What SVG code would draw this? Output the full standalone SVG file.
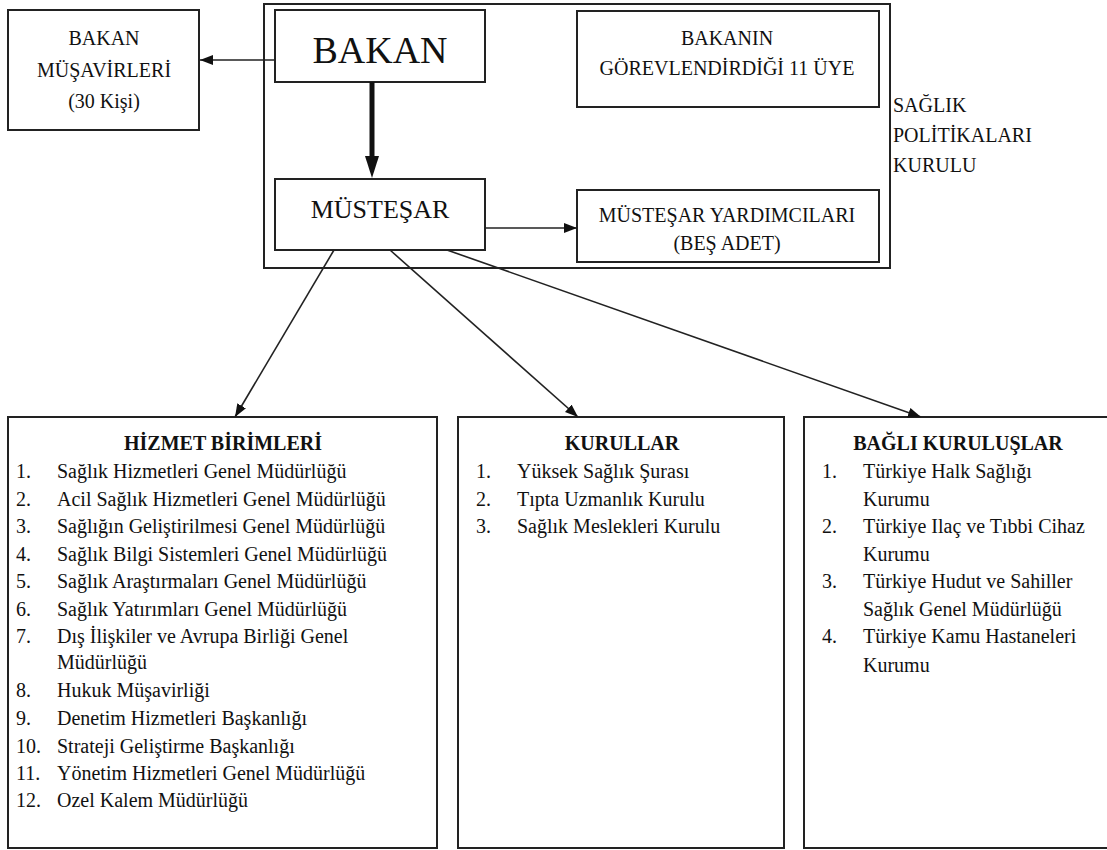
<svg xmlns="http://www.w3.org/2000/svg" width="1107" height="850" viewBox="0 0 1107 850">
<defs>
<style>
.box{fill:#fff;stroke:#222;stroke-width:2}
.t{font-family:"Liberation Serif","Times New Roman",serif;fill:#111}
.c{text-anchor:middle}
.b{font-weight:bold}
.conn{stroke:#222;stroke-width:1.6;fill:none}
</style>
<marker id="ah" markerUnits="userSpaceOnUse" markerWidth="13" markerHeight="10" refX="13" refY="5" orient="auto"><path d="M0,0 L13,5 L0,10 z" fill="#111"/></marker>
<marker id="ahb" markerUnits="userSpaceOnUse" markerWidth="22" markerHeight="14" refX="0" refY="7" orient="auto"><path d="M0,0 L22,7 L0,14 z" fill="#111"/></marker>
</defs>
<rect width="1107" height="850" fill="#fff"/>

<g id="kurul">
<rect class="box" x="264" y="4" width="626" height="264"/>
<text class="t" font-size="20" x="893" y="112">SAĞLIK</text>
<text class="t" font-size="20" x="893" y="142">POLİTİKALARI</text>
<text class="t" font-size="20" x="893" y="172">KURULU</text>
</g>

<g id="musavir">
<rect class="box" x="8" y="10" width="191" height="120"/>
<text class="t c" font-size="20" x="104" y="45">BAKAN</text>
<text class="t c" font-size="20" x="104" y="77">MÜŞAVİRLERİ</text>
<text class="t c" font-size="20" x="104" y="108">(30 Kişi)</text>
</g>

<g id="bakan">
<rect class="box" x="275" y="10" width="210" height="72"/>
<text class="t c" font-size="38" x="380" y="63">BAKAN</text>
</g>

<g id="uye">
<rect class="box" x="577" y="11" width="302" height="96"/>
<text class="t c" font-size="20" x="727" y="45">BAKANIN</text>
<text class="t c" font-size="20" x="727" y="75">GÖREVLENDİRDİĞİ 11 ÜYE</text>
</g>

<g id="mustesar">
<rect class="box" x="275" y="179" width="210" height="71"/>
<text class="t c" font-size="26" x="380" y="218">MÜSTEŞAR</text>
</g>

<g id="yardimci">
<rect class="box" x="577" y="190" width="302" height="72"/>
<text class="t c" font-size="20" x="727" y="222">MÜSTEŞAR YARDIMCILARI</text>
<text class="t c" font-size="20" x="727" y="250">(BEŞ ADET)</text>
</g>

<g id="hizmet">
<rect class="box" x="8" y="417" width="429" height="431"/>
<text class="t c b" font-size="20" x="223" y="450">HİZMET BİRİMLERİ</text>
<g class="t" font-size="20">
<text x="16" y="478">1.</text><text x="57" y="478">Sağlık Hizmetleri Genel Müdürlüğü</text>
<text x="16" y="506">2.</text><text x="57" y="506">Acil Sağlık Hizmetleri Genel Müdürlüğü</text>
<text x="16" y="533">3.</text><text x="57" y="533">Sağlığın Geliştirilmesi Genel Müdürlüğü</text>
<text x="16" y="561">4.</text><text x="57" y="561">Sağlık Bilgi Sistemleri Genel Müdürlüğü</text>
<text x="16" y="588">5.</text><text x="57" y="588">Sağlık Araştırmaları Genel Müdürlüğü</text>
<text x="16" y="616">6.</text><text x="57" y="616">Sağlık Yatırımları Genel Müdürlüğü</text>
<text x="16" y="643">7.</text><text x="57" y="643">Dış İlişkiler ve Avrupa Birliği Genel</text>
<text x="57" y="669">Müdürlüğü</text>
<text x="16" y="697">8.</text><text x="57" y="697">Hukuk Müşavirliği</text>
<text x="16" y="725">9.</text><text x="57" y="725">Denetim Hizmetleri Başkanlığı</text>
<text x="16" y="753">10.</text><text x="57" y="753">Strateji Geliştirme Başkanlığı</text>
<text x="16" y="780">11.</text><text x="57" y="780">Yönetim Hizmetleri Genel Müdürlüğü</text>
<text x="16" y="807">12.</text><text x="57" y="807">Ozel Kalem Müdürlüğü</text>
</g>
</g>

<g id="kurullar">
<rect class="box" x="458" y="417" width="326" height="431"/>
<text class="t c b" font-size="20" x="622" y="450">KURULLAR</text>
<g class="t" font-size="20">
<text x="476" y="478">1.</text><text x="517" y="478">Yüksek Sağlık Şurası</text>
<text x="476" y="506">2.</text><text x="517" y="506">Tıpta Uzmanlık Kurulu</text>
<text x="476" y="533">3.</text><text x="517" y="533">Sağlık Meslekleri Kurulu</text>
</g>
</g>

<g id="bagli">
<rect class="box" x="804" y="417" width="320" height="431"/>
<text class="t c b" font-size="20" x="958" y="450">BAĞLI KURULUŞLAR</text>
<g class="t" font-size="20">
<text x="822" y="478">1.</text><text x="863" y="478">Türkiye Halk Sağlığı</text>
<text x="863" y="506">Kurumu</text>
<text x="822" y="533">2.</text><text x="863" y="533">Türkiye Ilaç ve Tıbbi Cihaz</text>
<text x="863" y="561">Kurumu</text>
<text x="822" y="588">3.</text><text x="863" y="588">Türkiye Hudut ve Sahiller</text>
<text x="863" y="616">Sağlık Genel Müdürlüğü</text>
<text x="822" y="643">4.</text><text x="863" y="643">Türkiye Kamu Hastaneleri</text>
<text x="863" y="672">Kurumu</text>
</g>
</g>

<g id="connectors">
<line class="conn" x1="275" y1="60" x2="200" y2="60" marker-end="url(#ah)"/>
<line x1="372" y1="82" x2="372" y2="156" stroke="#111" stroke-width="5" marker-end="url(#ahb)"/>
<line class="conn" x1="485" y1="228" x2="577" y2="228" marker-end="url(#ah)"/>
<line class="conn" x1="334" y1="250" x2="235" y2="417" marker-end="url(#ah)"/>
<line class="conn" x1="390" y1="250" x2="578" y2="417" marker-end="url(#ah)"/>
<line class="conn" x1="447" y1="250" x2="921" y2="417" marker-end="url(#ah)"/>
</g>
</svg>
